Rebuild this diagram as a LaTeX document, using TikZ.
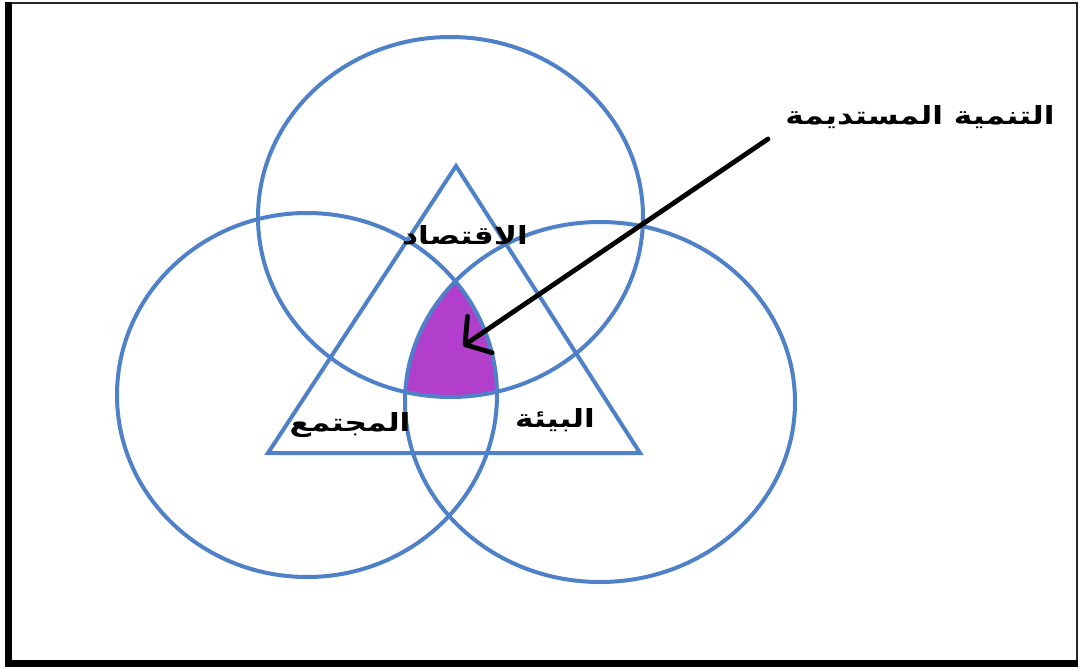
\documentclass[tikz,border=0pt]{standalone}
\usepackage{fontspec}
\usepackage{graphicx}
\usetikzlibrary{arrows.meta}
\newfontfamily\arabicfont[Script=Arabic]{DejaVu Sans}
\TeXXeTstate=1
\definecolor{ringblue}{RGB}{79,129,200}
\definecolor{corepurple}{RGB}{178,62,204}
\newcommand{\arlabel}[1]{\scalebox{1.25}[1]{\beginR #1\endR}}
\tikzset{
  ring/.style={draw=ringblue, line width=4pt},
  lbl/.style={font=\arabicfont\bfseries\fontsize{25}{30}\selectfont, text=black, inner sep=0pt},
  pointer/.style={line width=4.8pt, line cap=round, -{Straight Barb[length=18pt,width=44pt,line width=4.8pt,round]}}
}
\begin{document}
\begin{tikzpicture}[x=1pt,y=-1pt]
\useasboundingbox (0,0) rectangle (1080,669);
% frame
\draw[line width=2.5pt, black!85] (6.25,3.25) rectangle (1077,664);
\fill[black] (5,2) rectangle (12,667);
\fill[black] (5,660) rectangle (1078,667);
% core region
\begin{scope}
  \clip (450.5,217) ellipse [x radius=192.5pt, y radius=180pt];
  \clip (307,395) ellipse [x radius=190pt, y radius=182pt];
  \fill[corepurple] (600,402) ellipse [x radius=195pt, y radius=180pt];
\end{scope}
% rings
\draw[ring] (450.5,217) ellipse [x radius=192.5pt, y radius=180pt];
\draw[ring] (307,395) ellipse [x radius=190pt, y radius=182pt];
\draw[ring] (600,402) ellipse [x radius=195pt, y radius=180pt];
% triangle
\draw[ring, line join=miter] (456,166) -- (640,453) -- (268,453) -- cycle;
% labels
\node[lbl] (econ) at (465,235) {\arlabel{الاقتصاد}};
\node[lbl] (soc) at (350,425) {\arlabel{المجتمع}};
\node[lbl] (env) at (555,420) {\arlabel{البيئة}};
\node[lbl] (sd) at (920,117) {\arlabel{التنمية المستديمة}};
% arrow
\coordinate (start) at (768,139);
\coordinate (tip) at (463,346);
\draw[pointer] (start) -- (tip);
\end{tikzpicture}
\end{document}
